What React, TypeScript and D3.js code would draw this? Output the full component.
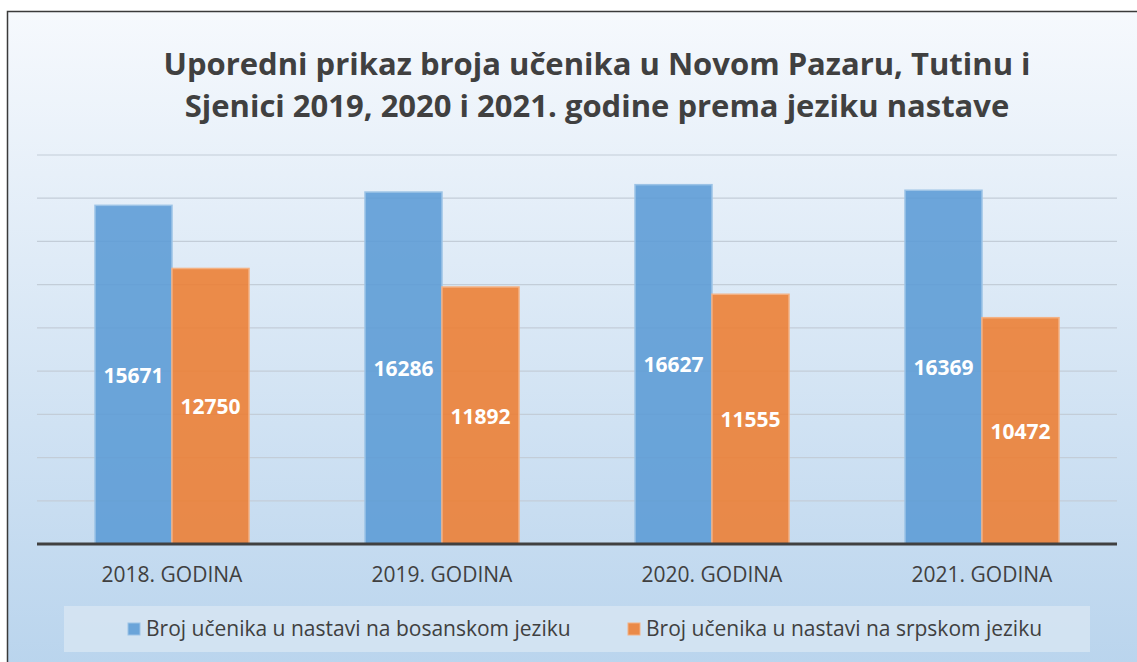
import React from "react";
import * as d3 from "d3";

const categories = ["2018. GODINA", "2019. GODINA", "2020. GODINA", "2021. GODINA"];
const bosanski = [15671, 16286, 16627, 16369];
const srpski = [12750, 11892, 11555, 10472];
const seriesNames = ["Broj učenika u nastavi na bosanskom jeziku", "Broj učenika u nastavi na srpskom jeziku"];
const titleLines = ["Uporedni prikaz broja učenika u Novom Pazaru, Tutinu i", "Sjenici 2019, 2020 i 2021. godine prema jeziku nastave"];
const yTicks = [0, 2000, 4000, 6000, 8000, 10000, 12000, 14000, 16000, 18000];

const W = 1137, H = 662;
const font = "'Open Sans', sans-serif";

export default function App() {
  const x0 = d3.scaleBand<string>().domain(categories).range([37, 1117]).paddingInner(0).paddingOuter(0);
  const x1 = d3.scaleBand<number>().domain([0, 1]).range([58, 270 - 58]);
  const y = d3.scaleLinear().domain([0, 18000]).range([544, 155]);
  const series = [bosanski, srpski];
  const colors = ["#5b9bd5", "#ed7d31"];
  const strokes = ["#9cc3e6", "#f4b183"];
  return (
    <div style={{ position: "absolute", left: 0, top: 0 }}>
      <svg width={W} height={H} style={{ display: "block" }}>
        <defs>
          <linearGradient id="bg" x1="0" y1="0" x2="0" y2="1">
            <stop offset="0" stopColor="#f6f9fd" />
            <stop offset="1" stopColor="#b9d4ed" />
          </linearGradient>
        </defs>
        <rect x={0} y={0} width={W} height={H} fill="#fff" />
        <rect x={7.5} y={11.5} width={W + 10} height={H} fill="url(#bg)" stroke="#3a3a3a" strokeWidth={1.5} />
        {titleLines.map((t, i) => (
          <text key={i} x={597} y={75 + i * 41.5} textAnchor="middle" fontFamily={font} fontWeight={700} fontSize={31} fill="#404040">{t}</text>
        ))}
        {yTicks.slice(1).map((t) => (
          <line key={t} x1={37} x2={1117} y1={y(t)} y2={y(t)} stroke="#c3cdd8" strokeWidth={1.2} />
        ))}
        {categories.map((c, ci) => (
          <g key={c}>
            {series.map((s, si) => {
              const bx = (x0(c) as number) + (x1(si) as number);
              const bw = x1.bandwidth();
              const top = y(s[ci]);
              return (
                <g key={si}>
                  <rect x={bx} y={top} width={bw} height={y(0) - top} fill={colors[si]} fillOpacity={0.88} stroke={strokes[si]} strokeWidth={1.5} />
                  <text x={bx + bw / 2} y={(top + y(0)) / 2 + 8} textAnchor="middle" fontFamily={font} fontWeight={700} fontSize={21} fill="#fff">{s[ci]}</text>
                </g>
              );
            })}
            <text x={(x0(c) as number) + x0.bandwidth() / 2} y={582} textAnchor="middle" fontFamily={font} fontSize={21} fill="#404040">{c}</text>
          </g>
        ))}
        <line x1={37} x2={1117} y1={y(0)} y2={y(0)} stroke="#404040" strokeWidth={3} />
        <rect x={64} y={606} width={1026} height={46} fill="#dce8f4" fillOpacity={0.7} />
        {seriesNames.map((n, i) => (
          <g key={n}>
            <rect x={128 + i * 500} y={623} width={12} height={12} fill={colors[i]} fillOpacity={0.88} stroke={strokes[i]} strokeWidth={1} />
            <text x={146 + i * 500} y={636} fontFamily={font} fontSize={21} fill="#404040">{n}</text>
          </g>
        ))}
      </svg>
    </div>
  );
}
